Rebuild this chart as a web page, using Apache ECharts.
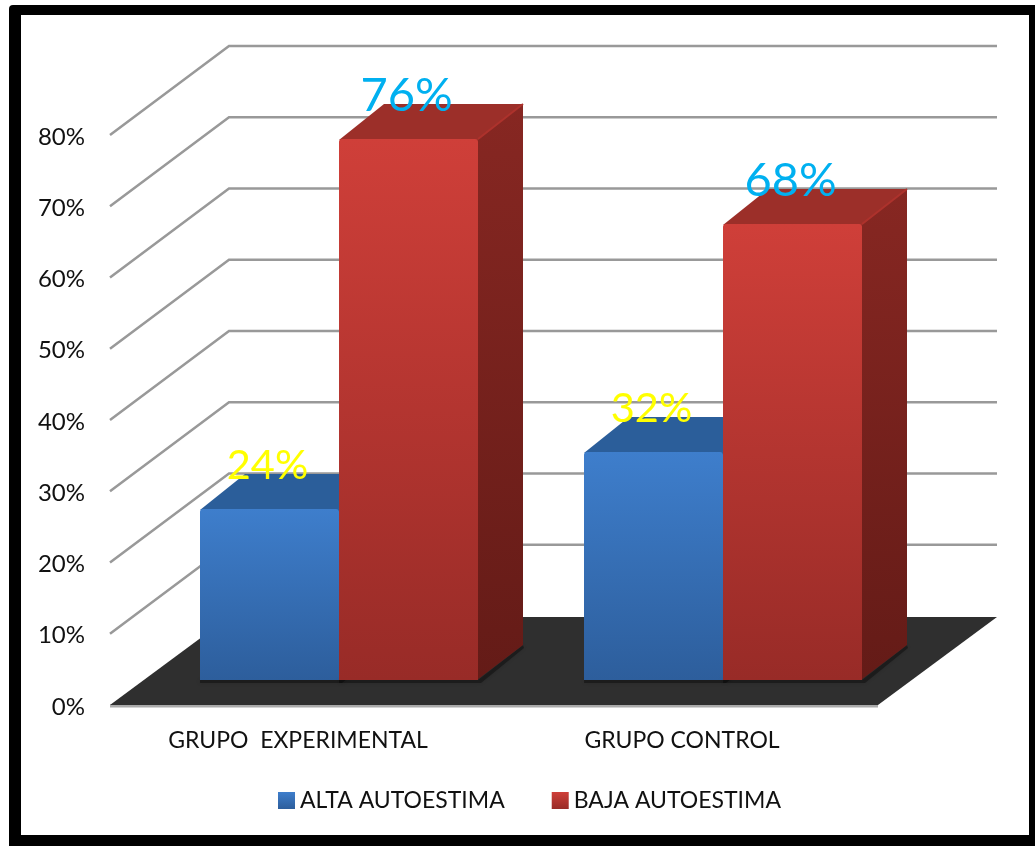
<!DOCTYPE html>
<html>
<head>
<meta charset="utf-8">
<style>html,body{margin:0;padding:0;background:#fff}#c{width:1035px;height:846px}</style>
<script src="https://cdn.jsdelivr.net/npm/echarts@6/dist/echarts.min.js"></script>
</head>
<body>
<div id="c"></div>
<script>
const categories = ['GRUPO  EXPERIMENTAL', 'GRUPO CONTROL'];
const altaValues = [24, 32];
const bajaValues = [76, 64];
const altaLabels = ['24%', '32%'];
const bajaLabels = ['76%', '68%'];
const gridTicks = [80, 70, 60, 50, 40, 30, 20, 10];

const FONT = 'Lato';
const WALL = { dx: 119, dy: -89 };
const BAR = { dx: 45, dy: -35, shiftX: 37, shiftY: -25, ratio: 0.3625 };

function lin(a, b) {
  return { type: 'linear', x: 0, y: 0, x2: 0, y2: 1, colorStops: [{ offset: 0, color: a }, { offset: 1, color: b }] };
}

function barRender(side, labels, palette, labelStyle) {
  return function (params, api) {
    const i = api.value(0);
    const top = api.coord([i, api.value(1)]);
    const base = api.coord([i, 0]);
    const w = Math.round(api.size([1, 0])[0] * BAR.ratio);
    const x0 = Math.round(side < 0 ? top[0] + BAR.shiftX - w : top[0] + BAR.shiftX);
    const x1 = x0 + w;
    const yT = Math.round(top[1] + BAR.shiftY);
    const yB = Math.round(base[1] + BAR.shiftY);
    const d = BAR;
    return {
      type: 'group',
      children: [
        { type: 'polygon', shape: { points: [[x0, yB], [x1, yB], [x1 + d.dx, yB + d.dy], [x1 + d.dx + 1, yB + d.dy + 3], [x1 + 3, yB + 3], [x0, yB + 3]] },
          style: { fill: 'rgba(0,0,0,0.35)', shadowBlur: 4, shadowColor: 'rgba(0,0,0,0.45)' } },
        { type: 'polygon', shape: { points: [[x1 - 1, yT], [x1 + d.dx, yT + d.dy], [x1 + d.dx, yB + d.dy], [x1 - 1, yB]] },
          style: { fill: lin(palette.sideTop, palette.sideBottom) } },
        { type: 'polygon', shape: { points: [[x0, yT + 1], [x0 + d.dx, yT + d.dy], [x1 + d.dx, yT + d.dy], [x1, yT + 1]] },
          style: { fill: palette.top } },
        { type: 'line', shape: { x1: x1, y1: yT, x2: x1 + d.dx, y2: yT + d.dy },
          style: { stroke: palette.edge, lineWidth: 2 } },
        { type: 'rect', shape: { x: x0, y: yT, width: w, height: yB - yT, r: [3, 3, 0, 0] },
          style: { fill: lin(palette.frontTop, palette.frontBottom) } },
        { type: 'text', z2: 100,
          style: { text: labels[i], x: (x0 + x1) / 2 - 2, y: yT - 43, align: 'center', verticalAlign: 'middle',
            fill: labelStyle.color, fontSize: labelStyle.size, fontFamily: FONT } }
      ]
    };
  };
}

const blue = { frontTop: '#3e7ecc', frontBottom: '#2d5e9c', top: '#2b5e9a', edge: '#2f66a8', sideTop: '#26507f', sideBottom: '#1f4068' };
const red = { frontTop: '#cf3f39', frontBottom: '#982b27', top: '#9c2f29', edge: '#ad322c', sideTop: '#872722', sideBottom: '#641b17' };

const option = {
  animation: false,
  backgroundColor: '#ffffff',
  textStyle: { fontFamily: FONT },
  graphic: [
    { type: 'rect', z: -20, silent: true, shape: { x: 9, y: 5, width: 1040, height: 860, r: 4 }, style: { fill: '#000' } },
    { type: 'rect', z: -19, silent: true, shape: { x: 21, y: 15, width: 1008, height: 820 }, style: { fill: '#fff' } }
  ],
  grid: { left: 110, right: 157, top: 135, bottom: 141 },
  xAxis: {
    type: 'category', data: categories,
    axisLine: { show: false }, axisTick: { show: false },
    axisLabel: { color: '#111', fontSize: 23, fontFamily: FONT, margin: 24, interval: 0, padding: [0, 8, 0, 0] }
  },
  yAxis: {
    type: 'value', min: 0, max: 80, interval: 10,
    splitLine: { show: false }, axisLine: { show: false }, axisTick: { show: false },
    axisLabel: { color: '#111', fontSize: 24, fontFamily: FONT, margin: 25, lineHeight: 24, verticalAlign: 'top', padding: [-10, 0, 0, 0], formatter: '{value}%' }
  },
  legend: {
    left: 273, top: 784, itemWidth: 17, itemHeight: 17, itemGap: 47,
    textStyle: { color: '#111', fontSize: 23, fontFamily: FONT },
    data: [
      { name: 'ALTA AUTOESTIMA', icon: 'rect' },
      { name: 'BAJA AUTOESTIMA', icon: 'rect' }
    ]
  },
  series: [
    {
      type: 'custom', name: 'walls', z: 1, silent: true,
      data: gridTicks.map(v => [0, v]),
      renderItem: function (params, api) {
        const p = api.coord([0, api.value(1)]);
        const g = params.coordSys;
        const bx = g.x + WALL.dx, by = p[1] + WALL.dy;
        return { type: 'polyline',
          shape: { points: [[g.x, p[1]], [bx, by], [g.x + g.width + WALL.dx, by]] },
          style: { fill: null, stroke: '#999999', lineWidth: 2.5 } };
      }
    },
    {
      type: 'custom', name: 'floor', z: 1, silent: true,
      data: [[0, 0]],
      renderItem: function (params, api) {
        const p = api.coord([0, 0]);
        const g = params.coordSys;
        const x0 = g.x, x1 = g.x + g.width, y = p[1];
        return { type: 'group', children: [
          { type: 'line', shape: { x1: x0, y1: y + 1, x2: x1, y2: y + 1 }, style: { stroke: '#aaaaaa', lineWidth: 3 } },
          { type: 'polygon', shape: { points: [[x0, y], [x1, y], [x1 + WALL.dx, y + WALL.dy + 1], [x0 + WALL.dx, y + WALL.dy + 1]] },
            style: { fill: '#2f2f2f' } }
        ] };
      }
    },
    {
      type: 'custom', name: 'ALTA AUTOESTIMA', z: 3,
      itemStyle: { color: lin('#3e7ecc', '#2d5e9c') },
      data: altaValues.map((v, i) => [i, v]),
      renderItem: barRender(-1, altaLabels, blue, { color: '#ffff00', size: 41.5 })
    },
    {
      type: 'custom', name: 'BAJA AUTOESTIMA', z: 3,
      itemStyle: { color: lin('#cf3f39', '#982b27') },
      data: bajaValues.map((v, i) => [i, v]),
      renderItem: barRender(1, bajaLabels, red, { color: '#00b0f0', size: 47 })
    }
  ]
};
echarts.init(document.getElementById('c')).setOption(option);
</script>
</body>
</html>
